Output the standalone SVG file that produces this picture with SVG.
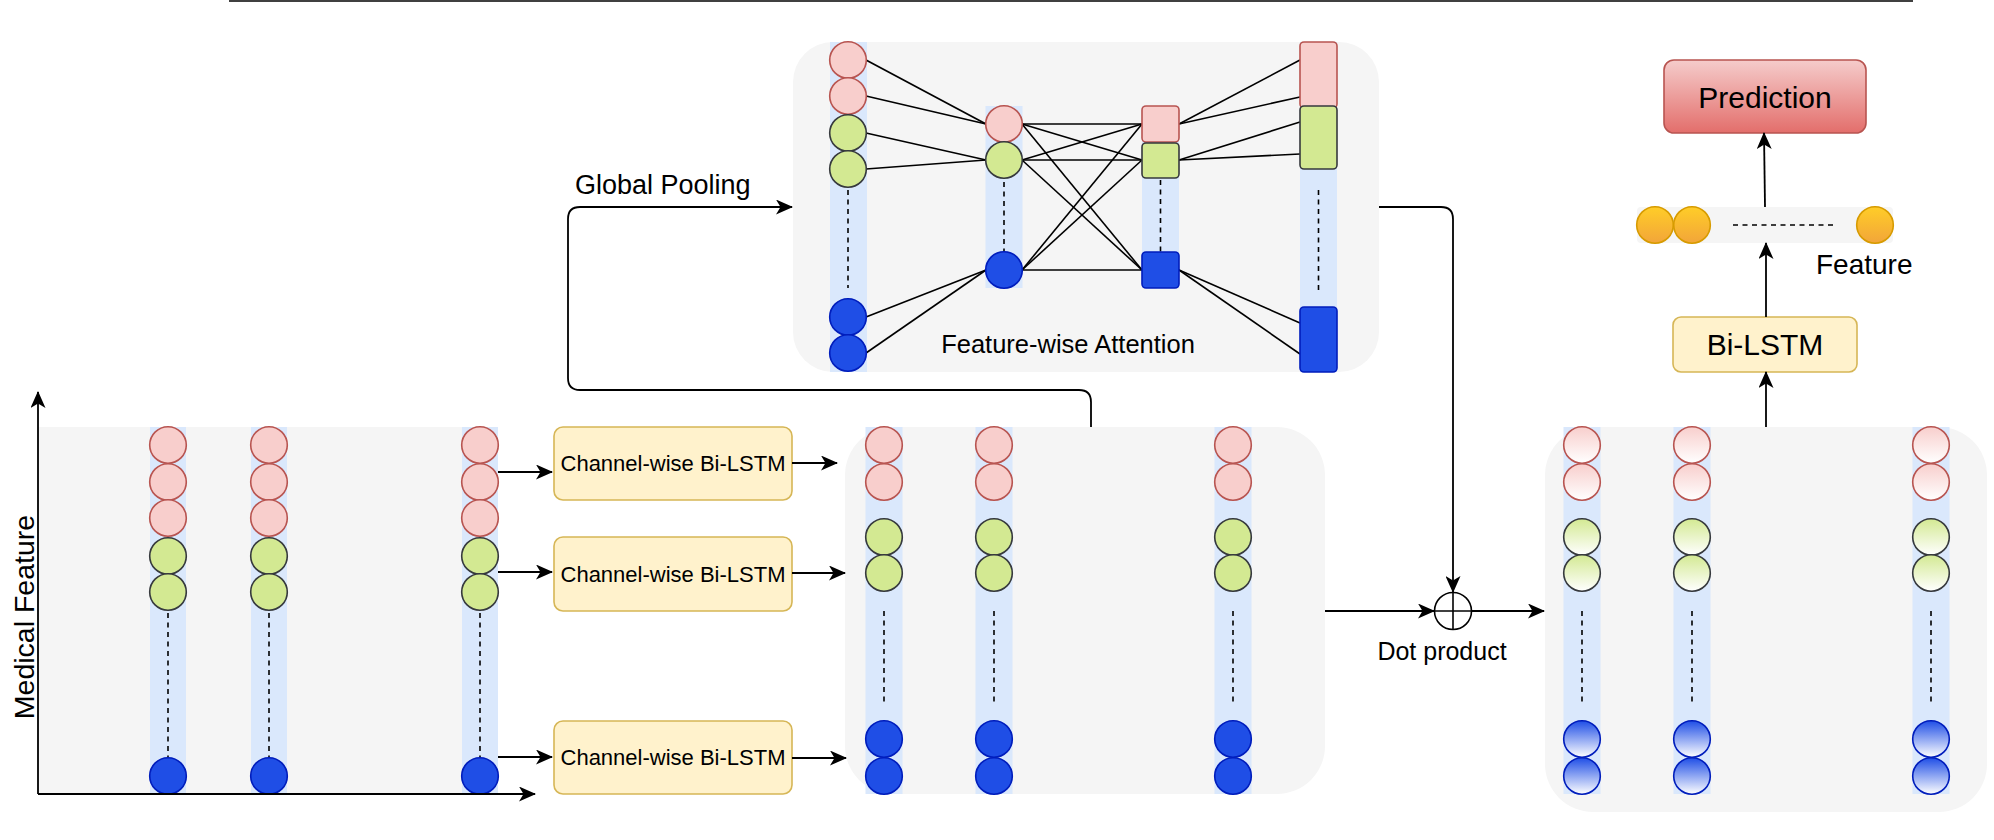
<svg xmlns="http://www.w3.org/2000/svg" width="1994" height="840" viewBox="0 0 1994 840">
<defs>
<style>
.panel{fill:#f5f5f5;stroke:none}
.strip{fill:#dae8fc;stroke:none}
.r{fill:#f8cecc;stroke:#b85450;stroke-width:1.6}
.g{fill:#d3e992;stroke:#36393d;stroke-width:1.6}
.b{fill:#1f4ee6;stroke:#001dbc;stroke-width:1.6}
.rg{fill:url(#gr);stroke:#b85450;stroke-width:1.6}
.gg{fill:url(#gg);stroke:#36393d;stroke-width:1.6}
.bg{fill:url(#gb);stroke:#001dbc;stroke-width:1.6}
.og{fill:url(#go);stroke:#d79b00;stroke-width:1.6}
.dash{stroke:#000;stroke-width:1.6;stroke-dasharray:5 4.5;fill:none}
.ln{stroke:#000;stroke-width:1.6;fill:none}
.arr{stroke:#000;stroke-width:1.8;fill:none;marker-end:url(#ah)}
.box{fill:#fff2cc;stroke:#d6b656;stroke-width:1.6}
text{font-family:"Liberation Sans",Arial,Helvetica,sans-serif;fill:#000}
</style>
<linearGradient id="gr" x1="0" y1="0" x2="0" y2="1"><stop offset="0" stop-color="#f8cecc"/><stop offset="1" stop-color="#ffffff"/></linearGradient>
<linearGradient id="gg" x1="0" y1="0" x2="0" y2="1"><stop offset="0" stop-color="#d3e992"/><stop offset="1" stop-color="#ffffff"/></linearGradient>
<linearGradient id="gb" x1="0" y1="0" x2="0" y2="1"><stop offset="0" stop-color="#1f4ee6"/><stop offset="1" stop-color="#ffffff"/></linearGradient>
<linearGradient id="go" x1="0" y1="0" x2="0" y2="1"><stop offset="0" stop-color="#ffcd28"/><stop offset="1" stop-color="#f2a53a"/></linearGradient>
<linearGradient id="gp" x1="0" y1="0" x2="0" y2="1"><stop offset="0" stop-color="#f5cccb"/><stop offset="1" stop-color="#e36e6b"/></linearGradient>
<marker id="ah" markerUnits="userSpaceOnUse" markerWidth="17" markerHeight="15" viewBox="0 0 17 15" refX="16" refY="7.5" orient="auto">
<path d="M0,0 L17,7.5 L0,15 L4.5,7.5 Z" fill="#000"/>
</marker>
</defs>

<line x1="229" y1="1" x2="1913" y2="1" stroke="#000" stroke-width="1.6"/>

<g id="input-panel">
<rect class="panel" x="38" y="427" width="460" height="367"/>
<rect class="strip" x="150" y="427" width="36" height="367"/>
<rect class="strip" x="251" y="427" width="36" height="367"/>
<rect class="strip" x="462" y="427" width="36" height="367"/>
<g>
<circle class="r" cx="168" cy="445" r="18.3"/><circle class="r" cx="168" cy="482" r="18.3"/><circle class="r" cx="168" cy="518" r="18.3"/>
<circle class="g" cx="168" cy="556" r="18.3"/><circle class="g" cx="168" cy="592" r="18.3"/>
<line class="dash" x1="168" y1="613" x2="168" y2="757"/>
<circle class="b" cx="168" cy="776" r="18.3"/>
</g>
<g>
<circle class="r" cx="269" cy="445" r="18.3"/><circle class="r" cx="269" cy="482" r="18.3"/><circle class="r" cx="269" cy="518" r="18.3"/>
<circle class="g" cx="269" cy="556" r="18.3"/><circle class="g" cx="269" cy="592" r="18.3"/>
<line class="dash" x1="269" y1="613" x2="269" y2="757"/>
<circle class="b" cx="269" cy="776" r="18.3"/>
</g>
<g>
<circle class="r" cx="480" cy="445" r="18.3"/><circle class="r" cx="480" cy="482" r="18.3"/><circle class="r" cx="480" cy="518" r="18.3"/>
<circle class="g" cx="480" cy="556" r="18.3"/><circle class="g" cx="480" cy="592" r="18.3"/>
<line class="dash" x1="480" y1="613" x2="480" y2="757"/>
<circle class="b" cx="480" cy="776" r="18.3"/>
</g>
<text x="34" y="617" font-size="28.5" text-anchor="middle" transform="rotate(-90 34 617)">Medical Feature</text>
</g>

<g id="lstm1"><rect class="box" x="554" y="427" width="238" height="73" rx="9"/><text x="673" y="471" font-size="22" text-anchor="middle">Channel-wise Bi-LSTM</text></g>
<g id="lstm2"><rect class="box" x="554" y="537" width="238" height="74" rx="9"/><text x="673" y="582" font-size="22" text-anchor="middle">Channel-wise Bi-LSTM</text></g>
<g id="lstm3"><rect class="box" x="554" y="721" width="238" height="73" rx="9"/><text x="673" y="765" font-size="22" text-anchor="middle">Channel-wise Bi-LSTM</text></g>

<g id="hidden-panel">
<rect class="panel" x="845" y="427" width="480" height="367" rx="48"/>
<rect class="strip" x="865.5" y="427" width="37" height="367"/>
<rect class="strip" x="975.5" y="427" width="37" height="367"/>
<rect class="strip" x="1214.5" y="427" width="37" height="367"/>
<circle class="r" cx="884" cy="445" r="18.3"/><circle class="r" cx="884" cy="482" r="18.3"/>
<circle class="g" cx="884" cy="537" r="18.3"/><circle class="g" cx="884" cy="573" r="18.3"/>
<line class="dash" x1="884" y1="611" x2="884" y2="703"/>
<circle class="b" cx="884" cy="739" r="18.3"/><circle class="b" cx="884" cy="776" r="18.3"/>
<circle class="r" cx="994" cy="445" r="18.3"/><circle class="r" cx="994" cy="482" r="18.3"/>
<circle class="g" cx="994" cy="537" r="18.3"/><circle class="g" cx="994" cy="573" r="18.3"/>
<line class="dash" x1="994" y1="611" x2="994" y2="703"/>
<circle class="b" cx="994" cy="739" r="18.3"/><circle class="b" cx="994" cy="776" r="18.3"/>
<circle class="r" cx="1233" cy="445" r="18.3"/><circle class="r" cx="1233" cy="482" r="18.3"/>
<circle class="g" cx="1233" cy="537" r="18.3"/><circle class="g" cx="1233" cy="573" r="18.3"/>
<line class="dash" x1="1233" y1="611" x2="1233" y2="703"/>
<circle class="b" cx="1233" cy="739" r="18.3"/><circle class="b" cx="1233" cy="776" r="18.3"/>
</g>

<g id="attention">
<rect class="panel" x="793" y="42" width="586" height="330" rx="40"/>
<rect class="strip" x="830" y="42" width="37" height="330"/>
<rect class="strip" x="985.5" y="106" width="37" height="182"/>
<rect class="strip" x="1142" y="106" width="37" height="182"/>
<rect class="strip" x="1300" y="42" width="37" height="330"/>
<g class="ln">
<line x1="866" y1="60" x2="986" y2="124"/>
<line x1="866" y1="96" x2="986" y2="124"/>
<line x1="866" y1="133" x2="986" y2="160"/>
<line x1="866" y1="169" x2="986" y2="160"/>
<line x1="866" y1="317" x2="986" y2="270"/>
<line x1="866" y1="353" x2="986" y2="270"/>
<line x1="1022" y1="124" x2="1142" y2="124"/>
<line x1="1022" y1="124" x2="1142" y2="160"/>
<line x1="1022" y1="124" x2="1142" y2="270"/>
<line x1="1022" y1="160" x2="1142" y2="124"/>
<line x1="1022" y1="160" x2="1142" y2="160"/>
<line x1="1022" y1="160" x2="1142" y2="270"/>
<line x1="1022" y1="270" x2="1142" y2="124"/>
<line x1="1022" y1="270" x2="1142" y2="160"/>
<line x1="1022" y1="270" x2="1142" y2="270"/>
<line x1="1179" y1="124" x2="1300" y2="60"/>
<line x1="1179" y1="124" x2="1300" y2="97"/>
<line x1="1179" y1="160" x2="1300" y2="122"/>
<line x1="1179" y1="160" x2="1300" y2="154"/>
<line x1="1179" y1="270" x2="1300" y2="323"/>
<line x1="1179" y1="270" x2="1300" y2="354"/>
</g>
<circle class="r" cx="848" cy="60" r="18.3"/><circle class="r" cx="848" cy="96" r="18.3"/>
<circle class="g" cx="848" cy="133" r="18.3"/><circle class="g" cx="848" cy="169" r="18.3"/>
<line class="dash" x1="848" y1="190" x2="848" y2="288"/>
<circle class="b" cx="848" cy="317" r="18.3"/><circle class="b" cx="848" cy="353" r="18.3"/>
<circle class="r" cx="1004" cy="124" r="18.3"/><circle class="g" cx="1004" cy="160" r="18.3"/>
<line class="dash" x1="1004" y1="182" x2="1004" y2="252"/>
<circle class="b" cx="1004" cy="270" r="18.3"/>
<rect class="r" x="1142" y="106" width="37" height="36" rx="4"/>
<rect class="g" x="1142" y="143" width="37" height="35" rx="4"/>
<line class="dash" x1="1160.5" y1="180" x2="1160.5" y2="252"/>
<rect class="b" x="1142" y="252" width="37" height="36" rx="4"/>
<rect class="r" x="1300" y="42" width="37" height="66" rx="4"/>
<rect class="g" x="1300" y="106" width="37" height="63" rx="4"/>
<line class="dash" x1="1318.5" y1="190" x2="1318.5" y2="293"/>
<rect class="b" x="1300" y="307" width="37" height="65" rx="4"/>
<text x="1068" y="353" font-size="25.5" text-anchor="middle">Feature-wise Attention</text>
</g>

<g id="dot-product">
<circle cx="1453" cy="611" r="18.5" fill="#fff" stroke="#000" stroke-width="1.6"/>
<line x1="1434.5" y1="611" x2="1471.5" y2="611" class="ln"/>
<line x1="1453" y1="592.5" x2="1453" y2="629.5" class="ln"/>
<text x="1442" y="660" font-size="25" text-anchor="middle">Dot product</text>
</g>

<g id="weighted-panel">
<rect class="panel" x="1545" y="427" width="442" height="385" rx="48"/>
<rect class="strip" x="1563.5" y="427" width="37" height="367"/>
<rect class="strip" x="1673.5" y="427" width="37" height="367"/>
<rect class="strip" x="1912.5" y="427" width="37" height="367"/>
<circle class="rg" cx="1582" cy="445" r="18.3"/><circle class="rg" cx="1582" cy="482" r="18.3"/>
<circle class="gg" cx="1582" cy="537" r="18.3"/><circle class="gg" cx="1582" cy="573" r="18.3"/>
<line class="dash" x1="1582" y1="611" x2="1582" y2="703"/>
<circle class="bg" cx="1582" cy="739" r="18.3"/><circle class="bg" cx="1582" cy="776" r="18.3"/>
<circle class="rg" cx="1692" cy="445" r="18.3"/><circle class="rg" cx="1692" cy="482" r="18.3"/>
<circle class="gg" cx="1692" cy="537" r="18.3"/><circle class="gg" cx="1692" cy="573" r="18.3"/>
<line class="dash" x1="1692" y1="611" x2="1692" y2="703"/>
<circle class="bg" cx="1692" cy="739" r="18.3"/><circle class="bg" cx="1692" cy="776" r="18.3"/>
<circle class="rg" cx="1931" cy="445" r="18.3"/><circle class="rg" cx="1931" cy="482" r="18.3"/>
<circle class="gg" cx="1931" cy="537" r="18.3"/><circle class="gg" cx="1931" cy="573" r="18.3"/>
<line class="dash" x1="1931" y1="611" x2="1931" y2="703"/>
<circle class="bg" cx="1931" cy="739" r="18.3"/><circle class="bg" cx="1931" cy="776" r="18.3"/>
</g>

<g id="bilstm"><rect class="box" x="1673" y="317" width="184" height="55" rx="8"/><text x="1765" y="355" font-size="30" text-anchor="middle">Bi-LSTM</text></g>

<g id="feature">
<rect class="panel" x="1637" y="207" width="256" height="36" rx="4"/>
<circle class="og" cx="1655" cy="225" r="18.3"/><circle class="og" cx="1692" cy="225" r="18.3"/>
<line class="dash" x1="1733" y1="225" x2="1834" y2="225"/>
<circle class="og" cx="1875" cy="225" r="18.3"/>
<text x="1816" y="274" font-size="28">Feature</text>
</g>

<g id="prediction"><rect x="1664" y="60" width="202" height="73" rx="10" fill="url(#gp)" stroke="#b85450" stroke-width="1.6"/><text x="1765" y="108" font-size="30" text-anchor="middle">Prediction</text></g>

<g id="connectors">
<line class="arr" x1="38" y1="794" x2="38" y2="392"/>
<line class="arr" x1="38" y1="794" x2="535" y2="794"/>
<line class="arr" x1="498" y1="472" x2="552" y2="472"/>
<line class="arr" x1="498" y1="572" x2="552" y2="572"/>
<line class="arr" x1="498" y1="757" x2="552" y2="757"/>
<line class="arr" x1="792" y1="463" x2="837" y2="463"/>
<line class="arr" x1="792" y1="573" x2="845" y2="573"/>
<line class="arr" x1="792" y1="758" x2="846" y2="758"/>
<path class="arr" d="M1091,427 V402 Q1091,390 1079,390 H580 Q568,390 568,378 V219 Q568,207 580,207 H792"/>
<text x="575" y="194" font-size="27">Global Pooling</text>
<path class="arr" d="M1379,207 H1441 Q1453,207 1453,219 V592"/>
<line class="arr" x1="1325" y1="611" x2="1434" y2="611"/>
<line class="arr" x1="1471.5" y1="611" x2="1544" y2="611"/>
<line class="arr" x1="1766" y1="427" x2="1766" y2="372"/>
<line class="arr" x1="1766" y1="317" x2="1766" y2="243"/>
<line class="arr" x1="1765" y1="207" x2="1764" y2="133"/>
</g>
</svg>
